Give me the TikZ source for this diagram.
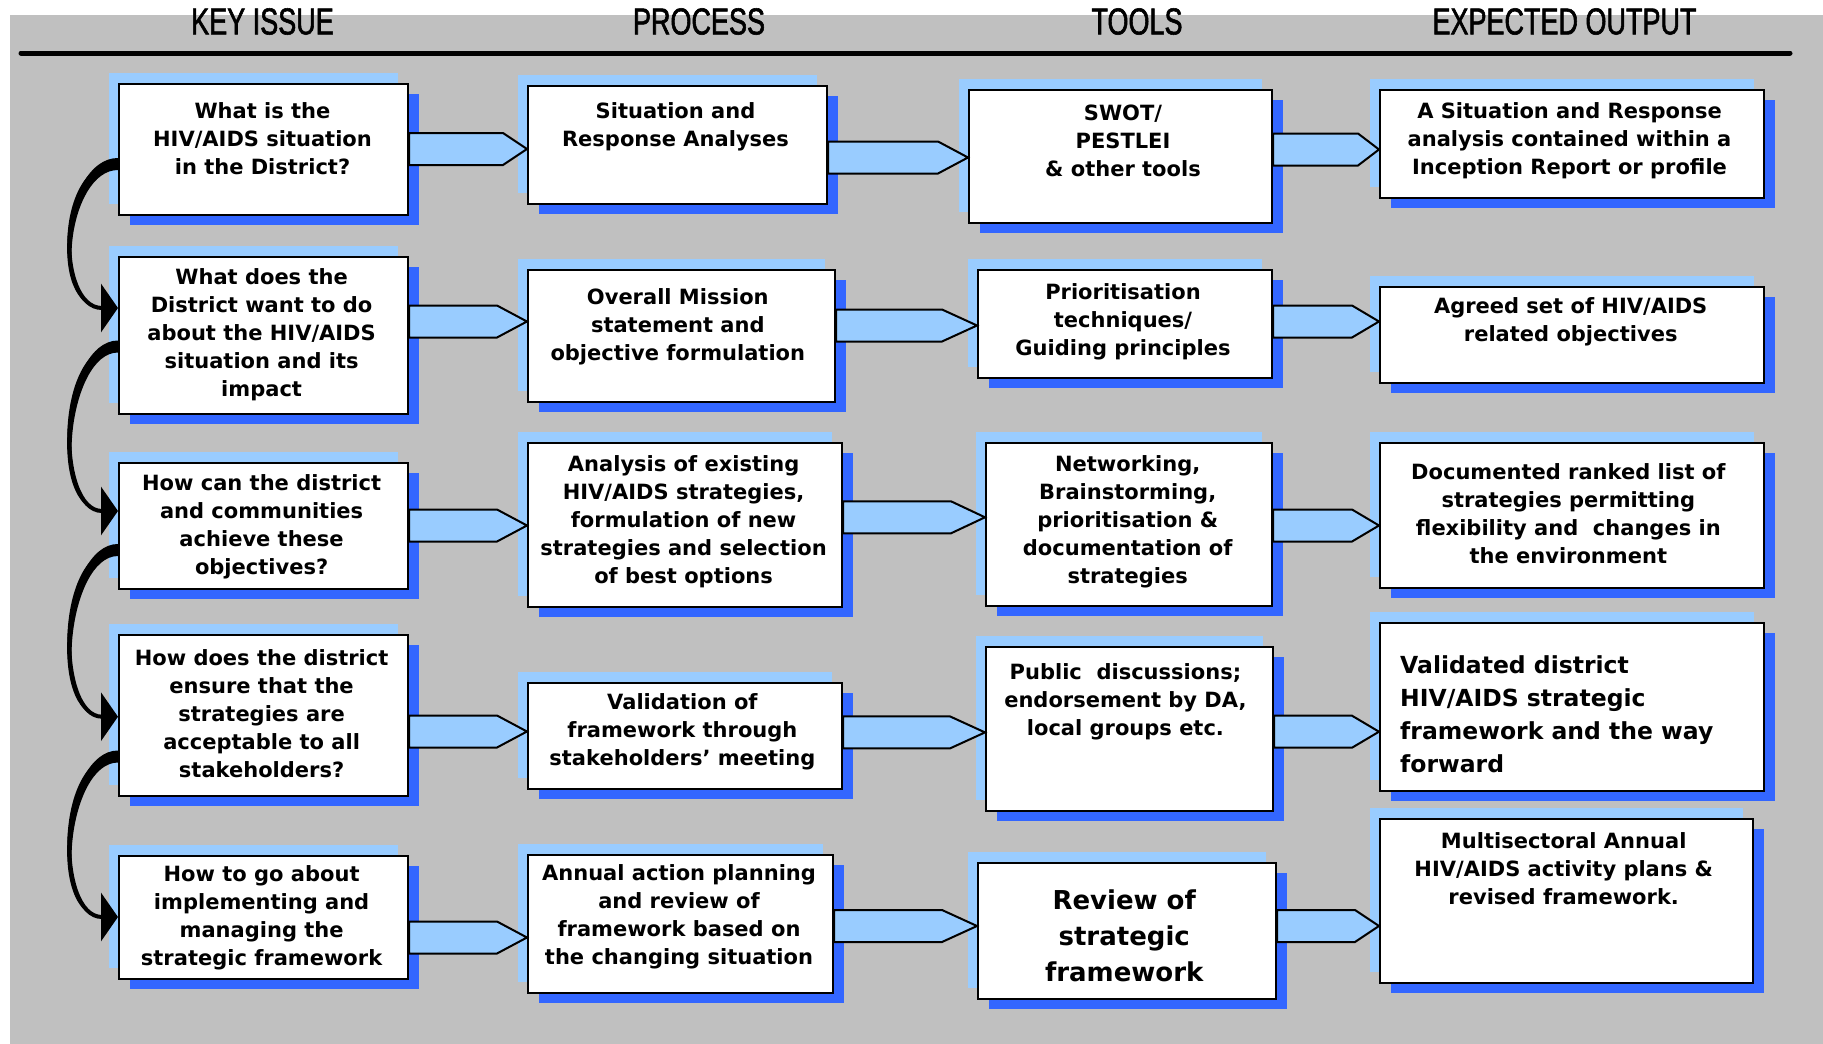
\documentclass[tikz,border=0pt]{standalone}
\usepackage{fontspec}
\setmainfont{DejaVu Sans}
\newfontfamily\headfont[FakeStretch=0.72,FakeBold=1.5]{Liberation Sans}
\usetikzlibrary{arrows.meta,shadows,calc}
\definecolor{panelgrey}{HTML}{C0C0C0}
\definecolor{lightblue}{HTML}{99CCFF}
\definecolor{deepblue}{HTML}{3366FF}

\begin{document}
\begin{tikzpicture}[x=1pt,y=-1pt,
  box/.style={draw,line width=2pt,fill=white,anchor=north west,inner sep=0pt,
    general shadow={fill=lightblue,shadow xshift=-10pt,shadow yshift=11pt},
    general shadow={fill=deepblue,shadow xshift=11pt,shadow yshift=-10pt}},
  txt/.style={align=center,inner sep=0pt,font=\bfseries\fontsize{21}{28}\selectfont},
  head/.style={inner sep=0pt,font=\headfont\fontsize{37.5}{40}\selectfont},
  flow/.style={draw,line width=2pt,fill=lightblue,line join=miter},
  turn/.style={line width=4pt,-{Triangle[length=17pt,width=48pt]}}]
\useasboundingbox (0,0) rectangle (1823,1044);
\fill[white] (0,0) rectangle (1823,1044);
\fill[panelgrey] (10,15) rectangle (1823,1044);

\node[head] (h1) at (262.5,21.5) {KEY ISSUE};
\node[head] (h2) at (699,21.5) {PROCESS};
\node[head] (h3) at (1137,21.5) {TOOLS};
\node[head] (h4) at (1564.5,21.5) {EXPECTED OUTPUT};
\draw[line width=5pt,line cap=round] (21,53) -- (1790,53);

\node[box,minimum width=289pt,minimum height=131pt] (k1) at (118,83) {};
\node[box,minimum width=289pt,minimum height=157pt] (k2) at (118,256) {};
\node[box,minimum width=289pt,minimum height=126pt] (k3) at (118,462) {};
\node[box,minimum width=289pt,minimum height=161pt] (k4) at (118,634) {};
\node[box,minimum width=289pt,minimum height=123pt] (k5) at (118,855) {};

\node[box,minimum width=299pt,minimum height=118pt] (p1) at (527,85) {};
\node[box,minimum width=307pt,minimum height=132pt] (p2) at (527,269) {};
\node[box,minimum width=314pt,minimum height=164pt] (p3) at (527,442) {};
\node[box,minimum width=314pt,minimum height=106pt] (p4) at (527,682) {};
\node[box,minimum width=305pt,minimum height=138pt] (p5) at (527,854) {};

\node[box,minimum width=303pt,minimum height=133pt] (t1) at (968,89) {};
\node[box,minimum width=294pt,minimum height=108pt] (t2) at (977,269) {};
\node[box,minimum width=286pt,minimum height=163pt] (t3) at (985,442) {};
\node[box,minimum width=287pt,minimum height=164pt] (t4) at (985,646) {};
\node[box,minimum width=298pt,minimum height=136pt] (t5) at (977,862) {};

\node[box,minimum width=384pt,minimum height=108pt] (o1) at (1379,89) {};
\node[box,minimum width=384pt,minimum height=96pt] (o2) at (1379,286) {};
\node[box,minimum width=384pt,minimum height=145pt] (o3) at (1379,442) {};
\node[box,minimum width=384pt,minimum height=168pt] (o4) at (1379,622) {};
\node[box,minimum width=373pt,minimum height=164pt] (o5) at (1379,818) {};

\node[txt] (k1t) at (262.5,138.4) {What is the\\HIV/AIDS situation\\in the District?};
\node[txt] (k2t) at (261.6,334.8) {What does the\\District want to do\\about the HIV/AIDS\\situation and its\\impact};
\node[txt] (k3t) at (261.6,526.7) {How can the district\\and communities\\achieve these\\objectives?};
\node[txt] (k4t) at (261.6,713.8) {How does the district\\ensure that the\\strategies are\\acceptable to all\\stakeholders?};
\node[txt] (k5t) at (261.6,917.9) {How to go about\\implementing and\\managing the\\strategic framework};

\node[txt] (p1t) at (675.5,126.7) {Situation and\\Response Analyses};
\node[txt] (p2t) at (677.8,327) {Overall Mission\\statement and\\objective formulation};
\node[txt] (p3t) at (683.6,522) {Analysis of existing\\HIV/AIDS strategies,\\formulation of new\\strategies and selection\\of best options};
\node[txt] (p4t) at (682.4,731.3) {Validation of\\framework through\\stakeholders’ meeting};
\node[txt] (p5t) at (679,917) {Annual action planning\\and review of\\framework based on\\the changing situation};

\node[txt] (t1t) at (1123,141) {SWOT/\\PESTLEI\\\& other tools};
\node[txt] (t2t) at (1123,321.7) {Prioritisation\\techniques/\\Guiding principles};
\node[txt] (t3t) at (1127.7,522) {Networking,\\Brainstorming,\\prioritisation \&\\documentation of\\strategies};
\node[txt] (t4t) at (1125.4,701.4) {Public~ discussions;\\endorsement by DA,\\local groups etc.};
\node[txt,font=\bfseries\fontsize{26}{36}\selectfont] (t5t) at (1124.2,935.9) {Review of\\strategic\\framework};

\node[txt] (o1t) at (1569.5,141) {A Situation and Response\\analysis contained within a\\Inception Report or profile};
\node[txt] (o2t) at (1570.7,321.5) {Agreed set of HIV/AIDS\\related objectives};
\node[txt] (o3t) at (1568.3,513.3) {Documented ranked list of\\strategies permitting\\flexibility and~ changes in\\the environment};
\node[txt,align=left,anchor=west,font=\bfseries\fontsize{23.5}{33}\selectfont] (o4t) at (1400,714.4) {Validated district\\HIV/AIDS strategic\\framework and the way\\forward};
\node[txt] (o5t) at (1563.7,868.8) {Multisectoral Annual\\HIV/AIDS activity plans \&\\revised framework.};

\foreach \src/\dst/\y/\len in {k1/p1/149/24, p1/t1/157.5/30, t1/o1/149.5/21,
    k2/p2/321.5/30, p2/t2/325.5/35, t2/o2/321.5/27,
    k3/p3/525.5/30, p3/t3/517.3/34, t3/o3/525.5/27,
    k4/p4/731.5/30, p4/t4/732.4/35, t4/o4/731.7/27,
    k5/p5/937.5/30, p5/t5/926/35, t5/o5/926/24}
  \draw[flow] (\src.east|-0,\y-16) -- ($(\dst.west|-0,\y-16)-(\len,0)$) -- (\dst.west|-0,\y)
    -- ($(\dst.west|-0,\y+16)-(\len,0)$) -- (\src.east|-0,\y+16) -- cycle;

\foreach \src/\dst/\s/\t in {k1/k2/164/308, k2/k3/346.5/511, k3/k4/550/716.7, k4/k5/756.5/917}{
  \fill (\src.west|-0,\s-6) to[out=180,in=180,distance=56pt] ($(\dst.west|-0,\t)-(16,0)$)
    to[out=180,in=180,distance=50pt] (\src.west|-0,\s+6) -- cycle;
  \draw[turn] (\src.west|-0,\s) to[out=180,in=180,distance=62pt] (\dst.west|-0,\t);
}
\end{tikzpicture}
\end{document}
